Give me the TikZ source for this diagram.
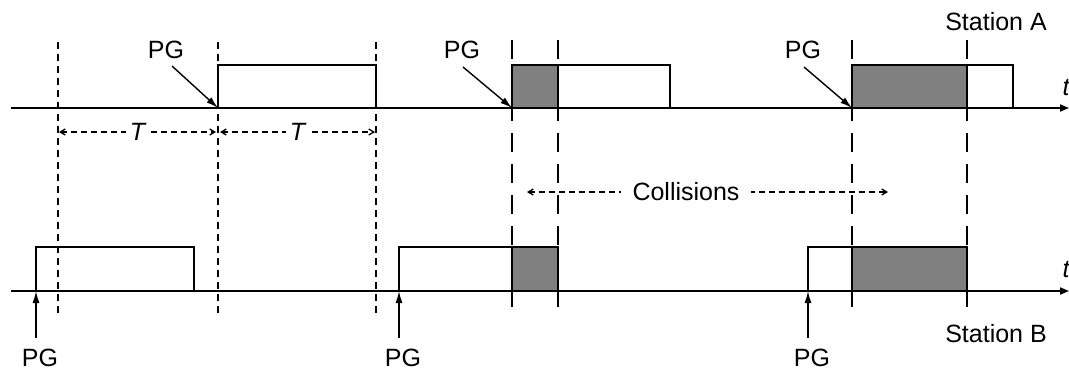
\documentclass[tikz,border=0pt]{standalone}
\usepackage{fontspec}
\setmainfont{Liberation Sans}
\usetikzlibrary{arrows.meta}
\begin{document}
\begin{tikzpicture}[x=1pt,y=-1pt,
  lbl/.style={font=\fontsize{25}{29}\selectfont, inner sep=0pt},
  tlbl/.style={font=\fontsize{25}{29}\selectfont\itshape, inner sep=0pt},
  axis/.style={line width=1.8pt, -{Triangle[length=9pt,width=7pt]}},
  pulse/.style={draw, line width=1.8pt},
  coll/.style={fill=gray},
  sdash/.style={line width=1.5pt, dash pattern=on 7pt off 5pt},
  ldash/.style={line width=1.5pt, dash pattern=on 19pt off 12pt, dash phase=0pt},
  darrow/.style={line width=1.3pt, dash pattern=on 6pt off 4pt, {Straight Barb[length=5pt,width=6pt]}-{Straight Barb[length=5pt,width=6pt]}},
  pgarrow/.style={line width=1.4pt, -{Latex[length=12pt,width=7pt]}}
]
\useasboundingbox (0,0) rectangle (1069,373);

% guide lines
\foreach \x in {58,218,376} \draw[sdash] (\x,42) -- (\x,317);
\foreach \x in {512,558,852,967} \draw[ldash] (\x,40) -- (\x,317);

% station A pulses
\fill[coll] (512,65) rectangle (558,108);
\fill[coll] (852,65) rectangle (967,108);
\draw[pulse] (218,108) -- (218,65) -- (376,65) -- (376,108);
\draw[pulse] (512,108) -- (512,65) -- (670,65) -- (670,108);
\draw[pulse] (558,65) -- (558,108);
\draw[pulse] (852,108) -- (852,65) -- (1013,65) -- (1013,108);
\draw[pulse] (967,65) -- (967,108);

% station B pulses
\fill[coll] (512,247) rectangle (558,291);
\fill[coll] (852,247) rectangle (967,291);
\draw[pulse] (36,291) -- (36,247) -- (194,247) -- (194,291);
\draw[pulse] (399,291) -- (399,247) -- (558,247) -- (558,291);
\draw[pulse] (512,247) -- (512,291);
\draw[pulse] (808,291) -- (808,247) -- (967,247) -- (967,291);
\draw[pulse] (852,247) -- (852,291);

% axes
\coordinate (a0s) at (11,108); \coordinate (a0e) at (1069,108);
\coordinate (b0s) at (11,291); \coordinate (b0e) at (1069,291);
\draw[axis] (a0s) -- (a0e);
\draw[axis] (b0s) -- (b0e);
\node[tlbl] (tA) at (1066,88) {t};
\node[tlbl] (tB) at (1066,270) {t};

\node[lbl] (stA) at (996,22) {Station A};
\node[lbl] (stB) at (996,334) {Station B};

% PG on station A
\node[lbl] (pgA1) at (166,50) {PG};
\node[lbl] (pgA2) at (462,50) {PG};
\node[lbl] (pgA3) at (803,50) {PG};
\coordinate (pgA1s) at (172,66); \coordinate (pA1) at (218,108);
\coordinate (pgA2s) at (463,67); \coordinate (pA2) at (512,108);
\coordinate (pgA3s) at (804,67); \coordinate (pA3) at (852,108);
\draw[pgarrow] (pgA1s) -- (pA1);
\draw[pgarrow] (pgA2s) -- (pA2);
\draw[pgarrow] (pgA3s) -- (pA3);

% PG on station B
\node[lbl] (pgB1) at (40,358) {PG};
\node[lbl] (pgB2) at (403,358) {PG};
\node[lbl] (pgB3) at (812,358) {PG};
\coordinate (pgB1s) at (36,338); \coordinate (pB1) at (36,291);
\coordinate (pgB2s) at (399,338); \coordinate (pB2) at (399,291);
\coordinate (pgB3s) at (808,338); \coordinate (pB3) at (808,291);
\draw[pgarrow] (pgB1s) -- (pB1);
\draw[pgarrow] (pgB2s) -- (pB2);
\draw[pgarrow] (pgB3s) -- (pB3);

% T intervals
\coordinate (T1a) at (59,132); \coordinate (T1b) at (216,132);
\coordinate (T2a) at (220,132); \coordinate (T2b) at (375,132);
\draw[darrow] (T1a) -- node[tlbl, fill=white, inner sep=4pt] (T1) {T} (T1b);
\draw[darrow] (T2a) -- node[tlbl, fill=white, inner sep=4pt] (T2) {T} (T2b);

% collisions
\coordinate (c1) at (527,192); \coordinate (c2) at (888,192);
\draw[darrow] (c1) -- (c2);
\node[lbl, fill=white, inner xsep=12pt, inner ysep=4pt] (coll) at (686,192) {Collisions};
\end{tikzpicture}
\end{document}
